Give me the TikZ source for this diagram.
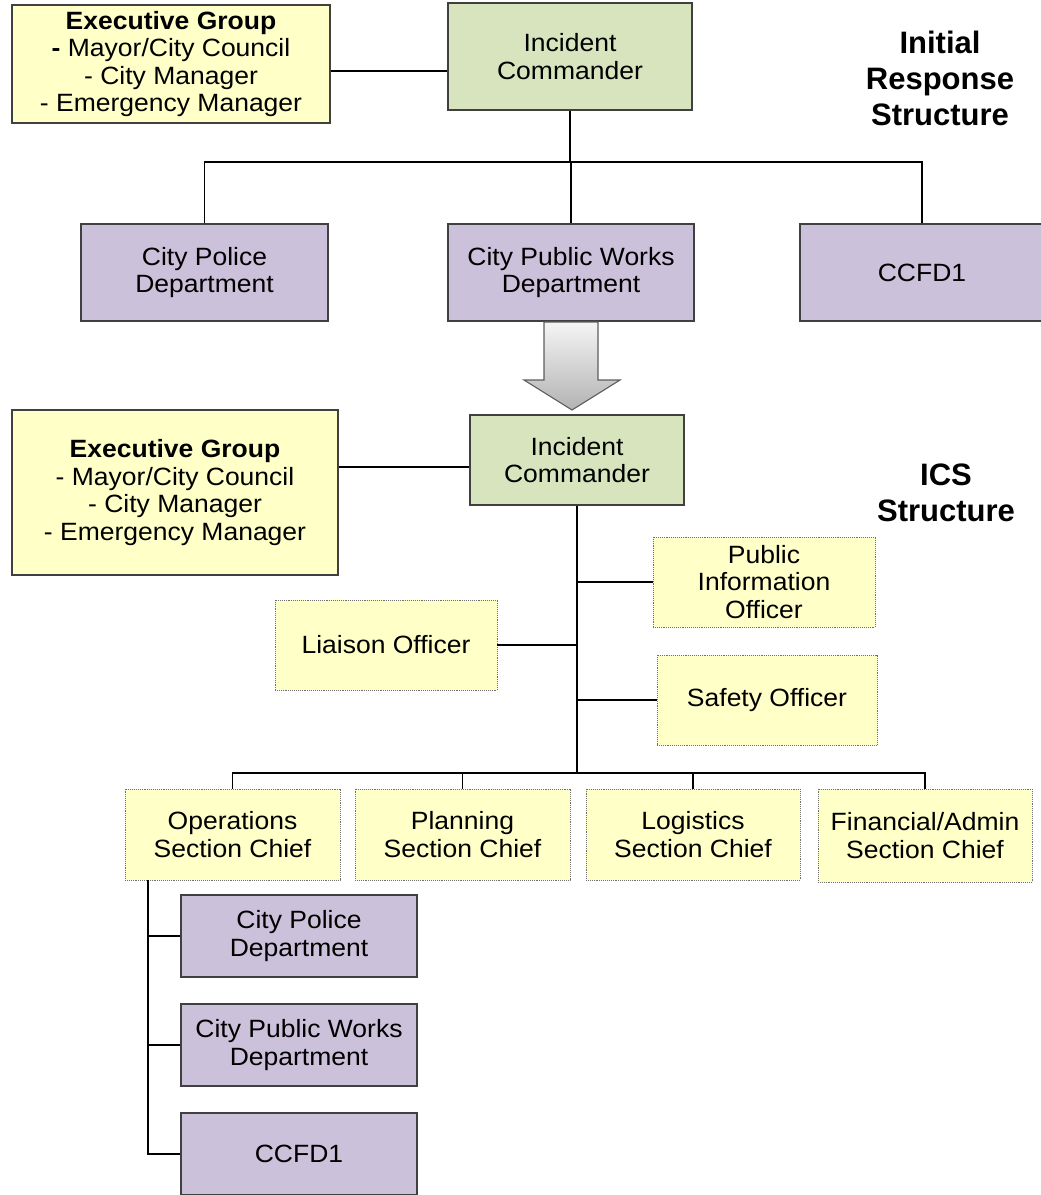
\documentclass[tikz,border=0pt]{standalone}
\usepackage{fontspec}
\setmainfont{Liberation Sans}
\newfontfamily\boxfont{Liberation Sans}[FakeStretch=1.06]
\usetikzlibrary{positioning}
\definecolor{exyellow}{HTML}{FFFFC8}
\definecolor{icgreen}{HTML}{D7E4BD}
\definecolor{deptpurple}{HTML}{CCC1DA}
\definecolor{edgegray}{HTML}{404040}
\definecolor{dotgray}{HTML}{707070}
\tikzset{
  boxtxt/.style={align=center, font=\boxfont\fontsize{25}{27.5}\selectfont, inner sep=0pt},
  solidbox/.style={boxtxt, draw=edgegray, line width=1.1pt},
  execbox/.style={solidbox, fill=exyellow},
  icbox/.style={solidbox, fill=icgreen},
  deptbox/.style={solidbox, fill=deptpurple},
  offbox/.style={boxtxt, draw=dotgray, densely dotted, line width=0.9pt, fill=exyellow},
  title/.style={align=center, font=\bfseries\fontsize{31}{36}\selectfont, inner sep=0pt},
  conn/.style={draw=black, line width=1.4pt},
  connb/.style={draw=black, line width=1.9pt},
}
\begin{document}
\begin{tikzpicture}[x=1pt,y=-1pt]
\useasboundingbox (0,0) rectangle (1041,1195);
\clip (0,0) rectangle (1041,1195);
% ---------- Initial response structure ----------
\node[execbox, minimum width=318pt, minimum height=118pt] (exA) at (171,64)
  {\textbf{Executive Group}\\\textbf{-} Mayor/City Council\\- City Manager\\- Emergency Manager};
\node[icbox, minimum width=244pt, minimum height=107pt] (icA) at (570,56.5) {Incident\\Commander};
\node[title] (tA) at (940,78) {Initial\\Response\\Structure};
\node[deptbox, minimum width=247pt, minimum height=97pt] (polA) at (204.5,272.5) {City Police\\Department};
\node[deptbox, minimum width=246pt, minimum height=97pt] (pwA) at (571,272.5) {City Public Works\\Department};
\node[deptbox, minimum width=244pt, minimum height=97pt] (cfA) at (922,272.5) {CCFD1};
\draw[conn] (exA.east |- 0,71) -- (icA.west |- 0,71);
\draw[conn] (icA.south) -- (icA.south |- 0,162);
\draw[conn] (polA.north) -- (polA.north |- 0,162) -- (cfA.north |- 0,162) -- (cfA.north);
\draw[conn] (pwA.north) -- (pwA.north |- 0,162);
% ---------- transition arrow ----------
\path[top color=gray!8, bottom color=gray!60, draw=edgegray!85, line width=1.1pt]
  (544,322) -- (598,322) -- (598,380) -- (620,380) -- (572,410) -- (524,380) -- (544,380) -- cycle;
% ---------- ICS structure ----------
\node[icbox, minimum width=214pt, minimum height=90pt] (icB) at (577,460) {Incident\\Commander};
\node[execbox, minimum width=326pt, minimum height=165pt] (exB) at (175,492.5)
  {\textbf{Executive Group}\\- Mayor/City Council\\- City Manager\\- Emergency Manager};
\node[title] (tB) at (946,493) {ICS\\Structure};
\node[offbox, minimum width=222pt, minimum height=90pt] (pio) at (764,582) {Public\\Information\\Officer};
\node[offbox, minimum width=222pt, minimum height=90pt] (lia) at (386,645) {Liaison Officer};
\node[offbox, minimum width=220pt, minimum height=90pt] (saf) at (767,700) {Safety Officer};
\node[offbox, minimum width=215pt, minimum height=91pt] (ops) at (232.5,834.5) {Operations\\Section Chief};
\node[offbox, minimum width=215pt, minimum height=91pt] (pla) at (462.5,834.5) {Planning\\Section Chief};
\node[offbox, minimum width=214pt, minimum height=91pt] (log) at (693,834.5) {Logistics\\Section Chief};
\node[offbox, minimum width=214pt, minimum height=93pt] (fin) at (925,835.5) {Financial/Admin\\Section Chief};
\node[deptbox, minimum width=236pt, minimum height=82pt] (polB) at (299,936) {City Police\\Department};
\node[deptbox, minimum width=236pt, minimum height=82pt] (pwB) at (299,1045) {City Public Works\\Department};
\node[deptbox, minimum width=236pt, minimum height=82pt] (cfB) at (299,1154) {CCFD1};
\draw[conn] (exB.east |- 0,467) -- (icB.west |- 0,467);
\draw[connb] (icB.south) -- (icB.south |- 0,773);
\draw[conn] (pio.west) -- (icB.south |- pio.west);
\draw[conn] (lia.east) -- (icB.south |- lia.east);
\draw[conn] (saf.west) -- (icB.south |- saf.west);
\draw[conn] (ops.north) -- (ops.north |- 0,773) -- (fin.north |- 0,773) -- (fin.north);
\draw[conn] (pla.north) -- (pla.north |- 0,773);
\draw[conn] (log.north) -- (log.north |- 0,773);
\draw[connb] ([xshift=23pt]ops.south west) |- (cfB.west);
\draw[conn] (polB.west) -- ([xshift=23pt]ops.south west |- polB.west);
\draw[conn] (pwB.west) -- ([xshift=23pt]ops.south west |- pwB.west);
\end{tikzpicture}
\end{document}
